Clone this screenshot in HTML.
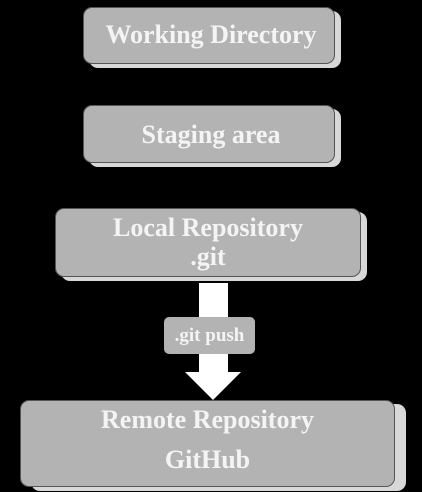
<!DOCTYPE html>
<html><head><style>
body{margin:0;width:422px;height:492px;background:#000;position:relative;overflow:hidden;font-family:"Liberation Serif",serif;font-weight:bold;color:#f4f4f4}
.b{position:absolute;background:#b3b3b3;border:1px solid #555;border-radius:9px;box-shadow:6px 4px 0 #d8d8d8;text-align:center;box-sizing:border-box}
.t{position:absolute;left:0;right:0;text-align:center;font-size:26px;white-space:nowrap}
</style></head><body>
<div class="b" style="left:83px;top:7px;width:252px;height:57px"><div class="t" style="top:12px;left:4px">Working Directory</div></div>
<div class="b" style="left:83px;top:105px;width:252px;height:58px"><div class="t" style="top:14px;left:4px">Staging area</div></div>
<div class="b" style="left:55px;top:208px;width:306px;height:69px"><div class="t" style="top:4px">Local Repository</div><div class="t" style="top:33px">.git</div></div>
<div style="position:absolute;left:199px;top:283px;width:29px;height:92px;background:#fff"></div>
<div style="position:absolute;left:185px;top:372px;width:0;height:0;border-left:28px solid transparent;border-right:28px solid transparent;border-top:28px solid #fff"></div>
<div style="position:absolute;left:164px;top:317px;width:91px;height:37px;background:#b3b3b3;border-radius:5px;text-align:center;line-height:37px;font-size:19px">.git push</div>
<div class="b" style="left:20px;top:400px;width:375px;height:87px;box-shadow:11px 4px 0 #d8d8d8"><div class="t" style="top:4px">Remote Repository</div><div class="t" style="top:44px">GitHub</div></div>
</body></html>
